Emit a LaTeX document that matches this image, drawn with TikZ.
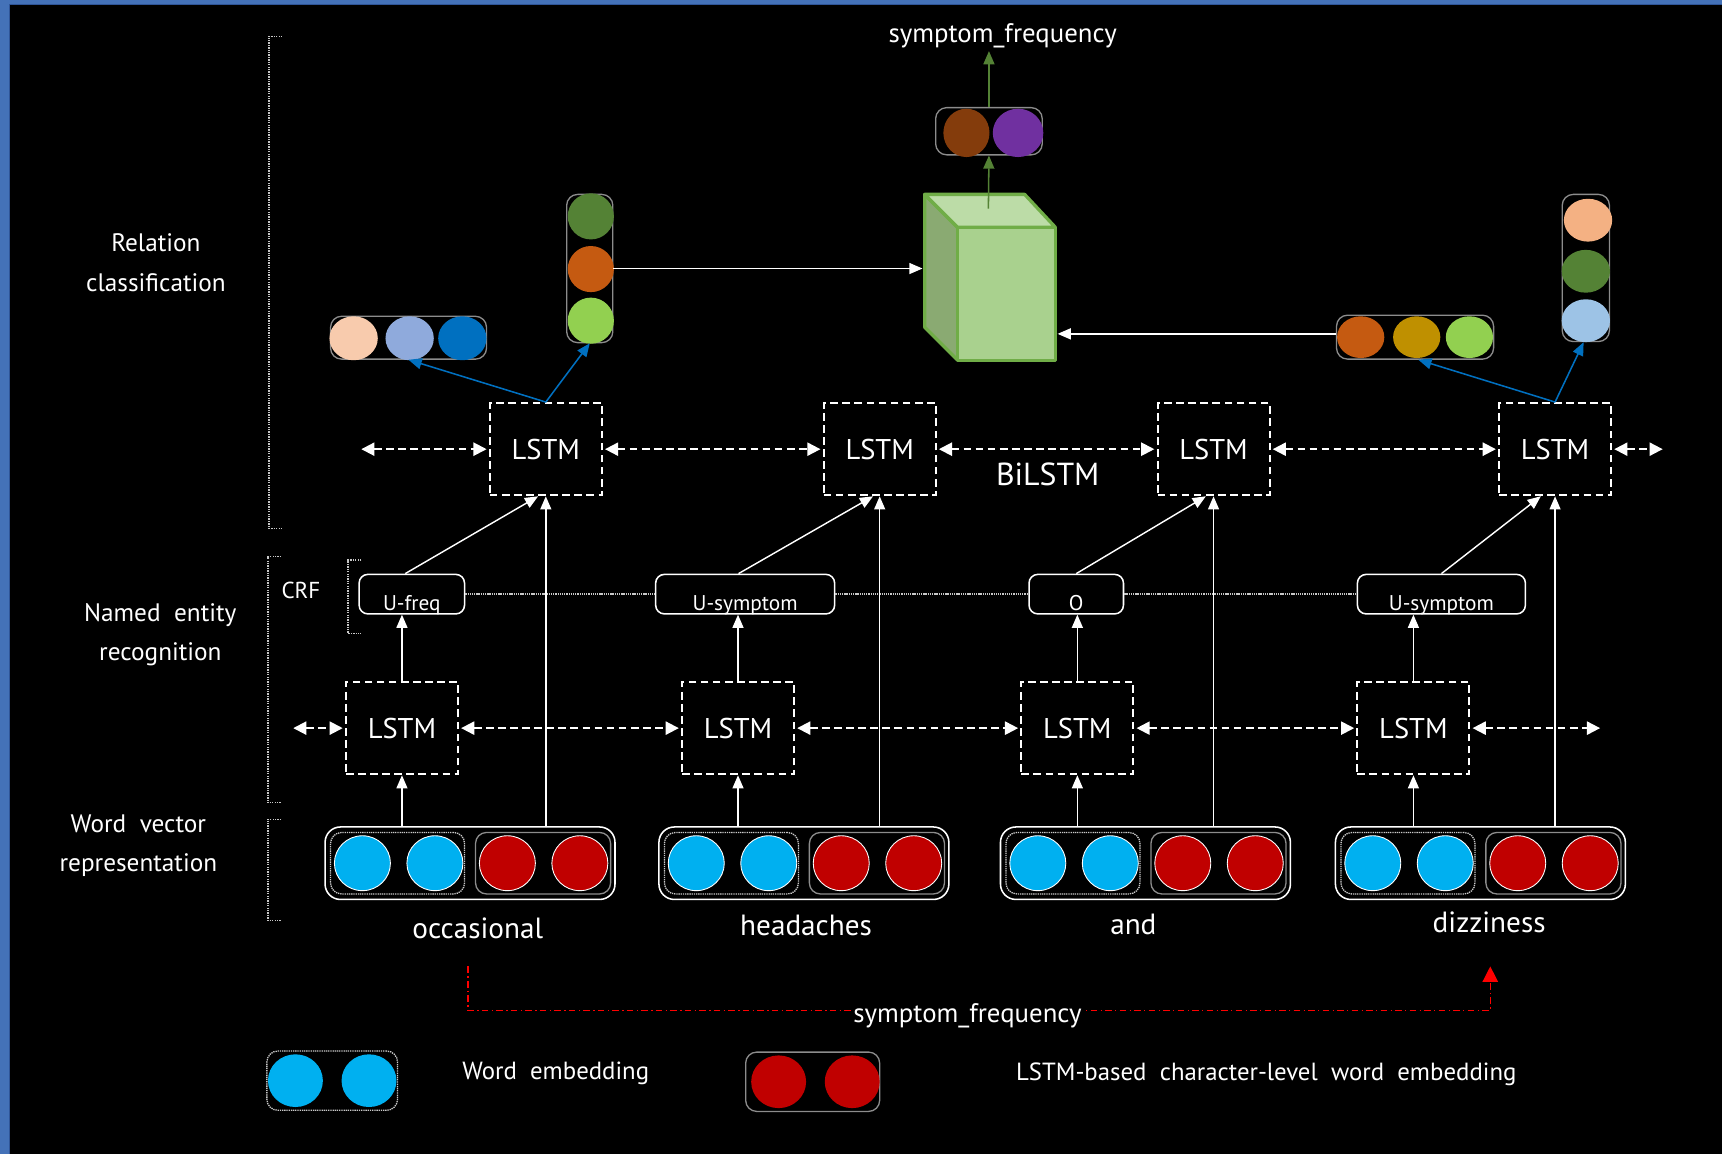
\documentclass[tikz,border=0pt]{standalone}
\usepackage{fontspec}
\setmainfont{PT Sans}
\usetikzlibrary{arrows.meta,shapes.geometric,calc}

\definecolor{frameblue}{HTML}{4472B8}
\definecolor{framedark}{HTML}{2F5597}
\definecolor{wordblue}{HTML}{00B0F0}
\definecolor{charred}{HTML}{C00000}
\definecolor{boxgray}{HTML}{8C8C8C}
\definecolor{dotgray}{HTML}{C8C8C8}
\definecolor{relblue}{HTML}{0070C0}
\definecolor{leafgreen}{HTML}{548235}
\definecolor{cubeedge}{HTML}{70AD47}
\definecolor{cubefront}{HTML}{A9D18E}
\definecolor{cubetopc}{HTML}{BCDCA7}
\definecolor{cubesidec}{HTML}{8AAA72}
\definecolor{cPeach}{HTML}{F8CBAD}
\definecolor{cPeachB}{HTML}{F4B183}
\definecolor{cLav}{HTML}{8FAADC}
\definecolor{cSky}{HTML}{9DC3E6}
\definecolor{cOrange}{HTML}{C55A11}
\definecolor{cGold}{HTML}{BF9000}
\definecolor{cLime}{HTML}{92D050}
\definecolor{cBrown}{HTML}{843C0C}
\definecolor{cPurple}{HTML}{7030A0}

\begin{document}
\begin{tikzpicture}[x=0.5pt,y=-0.5pt,
  every node/.style={text=white},
  lstmbox/.style={draw=white, line width=0.9pt, dash pattern=on 3.5pt off 2pt,
    minimum width=51pt, minimum height=42pt, inner sep=0pt,
    font=\fontsize{13}{15}\selectfont},
  biarrow/.style={draw=white, line width=0.9pt, dash pattern=on 3.5pt off 2pt,
    {Triangle[length=6pt,width=6pt]}-{Triangle[length=6pt,width=6pt]},
    shorten <=1pt, shorten >=1pt},
  uparrow/.style={draw=white, line width=0.65pt, -{Triangle[length=6pt,width=5pt]}},
  bluearrow/.style={draw=relblue, line width=0.7pt, -{Triangle[length=6pt,width=5pt]}},
  greenarrow/.style={draw=leafgreen, line width=0.7pt, -{Triangle[length=6pt,width=5pt]}},
  tagbox/.style={draw=white, line width=0.7pt, rounded corners=4pt,
    minimum height=18pt, text height=15pt, text depth=0pt, inner ysep=0pt,
    font=\fontsize{9.7}{11}\selectfont},
  crfchain/.style={draw=dotgray, line width=0.6pt, dash pattern=on 0.6pt off 0.4pt},
  bracket/.style={draw=dotgray, line width=0.6pt, dash pattern=on 0.6pt off 0.5pt},
  vecbox/.style={draw=boxgray, line width=0.6pt, rounded corners=5pt, inner sep=0pt},
  embbox/.style={draw=white, line width=0.7pt, rounded corners=7pt, inner sep=0pt,
    minimum width=132pt, minimum height=33pt},
  wgrp/.style={draw=dotgray, line width=0.6pt, dash pattern=on 0.6pt off 0.4pt,
    rounded corners=5pt, inner sep=0pt, minimum width=61pt, minimum height=28pt},
  cgrp/.style={draw=boxgray, line width=0.6pt, rounded corners=5pt, inner sep=0pt,
    minimum width=61.5pt, minimum height=28pt},
  blob/.style={ellipse, inner sep=0pt},
  wordcirc/.style={blob, fill=wordblue, draw=white, line width=0.4pt,
    minimum width=25.5pt, minimum height=25pt},
  charcirc/.style={blob, fill=charred, draw=white, line width=0.4pt,
    minimum width=25.5pt, minimum height=25pt},
  sidelabel/.style={align=center, font=\fontsize{11.5}{18}\selectfont},
  wordlabel/.style={font=\fontsize{13.3}{15}\selectfont},
  plain/.style={font=\fontsize{11.3}{13}\selectfont},
  rellabel/.style={font=\fontsize{12.2}{14}\selectfont}
]
% canvas and frame
\useasboundingbox (0,0) rectangle (1568,1051);
\fill[black] (0,0) rectangle (1568,1051);
\fill[frameblue] (0,0) rectangle (9,1051);
\fill[frameblue] (0,0) rectangle (1568,4);
\fill[framedark] (8,4) rectangle (9.5,1051);
\fill[framedark] (8,3.5) rectangle (1568,5);

% side labels and brackets
\node[sidelabel] (rel) at (142,239) {Relation\\classification};
\node[sidelabel] (ner) at (146,578) {Named~~entity\\recognition};
\node[sidelabel] (wvr) at (126,770) {Word~~vector\\representation};
\draw[bracket] (257,33) -- (245,33) -- (245,481) -- (257,481);
\draw[bracket] (256,507) -- (244,507) -- (244,731) -- (256,731);
\draw[bracket] (256,746) -- (244,746) -- (244,838) -- (256,838);
\draw[bracket] (329,510) -- (317,510) -- (317,577) -- (329,577);
\node[font=\fontsize{10.5}{12}\selectfont] (crf) at (274,538) {CRF};

% word vector layer
\foreach \i/\l in {1/296,2/600,3/911,4/1216}{
  \node[embbox] (emb\i) at (\l+132,786) {};
  \node[wgrp] (wg\i) at (\l+66,786) {};
  \node[cgrp] (cg\i) at (\l+198.5,786) {};
  \node[wordcirc] (wa\i) at (\l+34,786) {};
  \node[wordcirc] (wb\i) at (\l+100,786) {};
  \node[charcirc] (ca\i) at (\l+166,786) {};
  \node[charcirc] (cb\i) at (\l+232,786) {};
}
\node[wordlabel] (w1) at (435,845) {occasional};
\node[wordlabel] (w2) at (734,843) {headaches};
\node[wordlabel] (w3) at (1032,842) {and};
\node[wordlabel] (w4) at (1356,840) {dizziness};

% lower (NER) LSTM layer
\node[lstmbox] (lo1) at (366,663) {LSTM};
\node[lstmbox] (lo2) at (672,663) {LSTM};
\node[lstmbox] (lo3) at (981,663) {LSTM};
\node[lstmbox] (lo4) at (1287,663) {LSTM};
\coordinate (ll) at (265,663);
\coordinate (lr) at (1459,663);
\draw[biarrow] (ll) -- (lo1.west);
\draw[biarrow] (lo1) -- (lo2);
\draw[biarrow] (lo2) -- (lo3);
\draw[biarrow] (lo3) -- (lo4);
\draw[biarrow] (lo4.east) -- (lr);

% CRF tags
\node[tagbox, minimum width=48pt] (tag1) at (375,541) {U-freq};
\node[tagbox, minimum width=81.5pt] (tag2) at (678.5,541) {U-symptom};
\node[tagbox, minimum width=43pt] (tag3) at (980,541) {O};
\node[tagbox, minimum width=76.5pt] (tag4) at (1312.5,541) {U-symptom};
\draw[crfchain] (tag1) -- (tag2);
\draw[crfchain] (tag2) -- (tag3);
\draw[crfchain] (tag3) -- (tag4);

% upper (BiLSTM) layer
\node[lstmbox] (up1) at (497,409) {LSTM};
\node[lstmbox] (up2) at (801,409) {LSTM};
\node[lstmbox] (up3) at (1105,409) {LSTM};
\node[lstmbox] (up4) at (1416,409) {LSTM};
\coordinate (ul) at (327,409);
\coordinate (ur) at (1516,409);
\draw[biarrow] (ul) -- (up1.west);
\draw[biarrow] (up1) -- (up2);
\draw[biarrow] (up2) -- (up3);
\draw[biarrow] (up3) -- (up4);
\draw[biarrow] (up4.east) -- (ur);
\node[font=\fontsize{14.5}{16}\selectfont] (bilstm) at (954,432) {BiLSTM};

% vertical connections
\foreach \i/\s/\t in {1/-3.5pt/-3pt,2/-3pt/-3pt,3/-3.5pt/0pt,4/-6.5pt/0pt}{
  \draw[uparrow] (lo\i.south |- emb\i.north) -- (lo\i.south);
  \draw[uparrow] (up\i.south |- emb\i.north) -- (up\i.south);
  \draw[uparrow] (lo\i.north) -- (lo\i.north |- tag\i.south);
  \draw[uparrow] ([xshift=\t]tag\i.north) -- ([xshift=\s]up\i.south);
}

% entity representations
\node[vecbox, minimum width=71pt, minimum height=19.5pt] (hb1) at (372,307.5) {};
\node[blob, fill=cPeach, minimum width=22pt, minimum height=20pt] (h1a) at (322,308) {};
\node[blob, fill=cLav, minimum width=22pt, minimum height=20pt] (h1b) at (373,308) {};
\node[blob, fill=relblue, minimum width=22pt, minimum height=20pt] (h1c) at (421,308) {};
\node[vecbox, minimum width=21pt, minimum height=67.5pt] (vb1) at (537,244.5) {};
\node[blob, fill=leafgreen, minimum width=21pt, minimum height=21pt] (v1a) at (538,197) {};
\node[blob, fill=cOrange, minimum width=21pt, minimum height=21pt] (v1b) at (538,245) {};
\node[blob, fill=cLime, minimum width=21pt, minimum height=21pt] (v1c) at (538,292) {};

\node[vecbox, minimum width=71.5pt, minimum height=20pt] (hb2) at (1288.5,307) {};
\node[blob, fill=cOrange, minimum width=21.5pt, minimum height=19pt] (h2a) at (1239,307) {};
\node[blob, fill=cGold, minimum width=21.5pt, minimum height=19pt] (h2b) at (1290,307) {};
\node[blob, fill=cLime, minimum width=21.5pt, minimum height=19pt] (h2c) at (1338,307) {};
\node[vecbox, minimum width=21.5pt, minimum height=67pt] (vb2) at (1444,244) {};
\node[blob, fill=cPeachB, minimum width=22pt, minimum height=19.5pt] (v2a) at (1446,200.5) {};
\node[blob, fill=leafgreen, minimum width=22pt, minimum height=19.5pt] (v2b) at (1444,247) {};
\node[blob, fill=cSky, minimum width=22pt, minimum height=19.5pt] (v2c) at (1444,292) {};

\draw[bluearrow] (up1.north) -- (hb1.south);
\draw[bluearrow] (up1.north) -- (vb1.south);
\draw[bluearrow] (up4.north) -- ([xshift=1.5pt]hb2.south);
\draw[bluearrow] (up4.north) -- ([xshift=-1pt]vb2.south);

% relation classifier block
\coordinate (c1) at (842,177);
\coordinate (c2) at (933,177);
\coordinate (c3) at (961,207);
\coordinate (c4) at (872,207);
\coordinate (c5) at (961,328);
\coordinate (c6) at (872,328);
\coordinate (c7) at (842,298);
\coordinate (cubetop) at (900,190);
\begin{scope}[draw=cubeedge, line width=1.5pt, line join=round]
  \filldraw[fill=cubesidec] (c1) -- (c4) -- (c6) -- (c7) -- cycle;
  \filldraw[fill=cubetopc] (c1) -- (c2) -- (c3) -- (c4) -- cycle;
  \filldraw[fill=cubefront] (c4) -- (c3) -- (c5) -- (c6) -- cycle;
\end{scope}
\draw[uparrow] (vb1.east) -- ([xshift=-1pt]vb1.east -| c1);
\draw[uparrow] ([yshift=1.5pt]hb2.west) -- ([xshift=1pt,yshift=1.5pt]hb2.west -| c3);

% relation output
\node[vecbox, minimum width=48.5pt, minimum height=21.5pt] (ob) at (900.5,119.5) {};
\node[blob, fill=cBrown, minimum width=21pt, minimum height=22pt] (oa) at (880,121) {};
\node[blob, fill=cPurple, minimum width=23pt, minimum height=22pt] (obb) at (927,121) {};
\node[rellabel, inner sep=1pt] (toplab) at (913,33) {symptom\_frequency};
\draw[greenarrow] (cubetop) -- (ob.south);
\draw[greenarrow] (ob.north) -- (ob.north |- toplab.south);

% relation between the entity words
\coordinate (rs) at (426,880);
\coordinate (re) at (1357,880);
\draw[draw=red, line width=0.6pt, dash pattern=on 3pt off 1.5pt on 0.6pt off 1.5pt,
  -{Triangle[length=7pt,width=7pt]}] (rs) -- ++(0,40) -| (re);
\node[rellabel, fill=black, inner sep=1pt] (rellab) at (881,925) {symptom\_frequency};

% legend
\node[wgrp, minimum width=59.5pt, minimum height=27pt] (lgw) at (302.5,984) {};
\node[blob, fill=wordblue, minimum width=25pt, minimum height=24pt] (lgwa) at (269,984) {};
\node[blob, fill=wordblue, minimum width=25pt, minimum height=24pt] (lgwb) at (336,984) {};
\node[cgrp, minimum width=61pt, minimum height=27pt] (lgc) at (740,985) {};
\node[blob, fill=charred, minimum width=25pt, minimum height=24pt] (lgca) at (709,985) {};
\node[blob, fill=charred, minimum width=25pt, minimum height=24pt] (lgcb) at (776,985) {};
\node[plain] (lgwt) at (506,977) {Word~~embedding};
\node[plain] (lgct) at (1153,978) {LSTM-based~~character-level~~word~~embedding};
\end{tikzpicture}
\end{document}
